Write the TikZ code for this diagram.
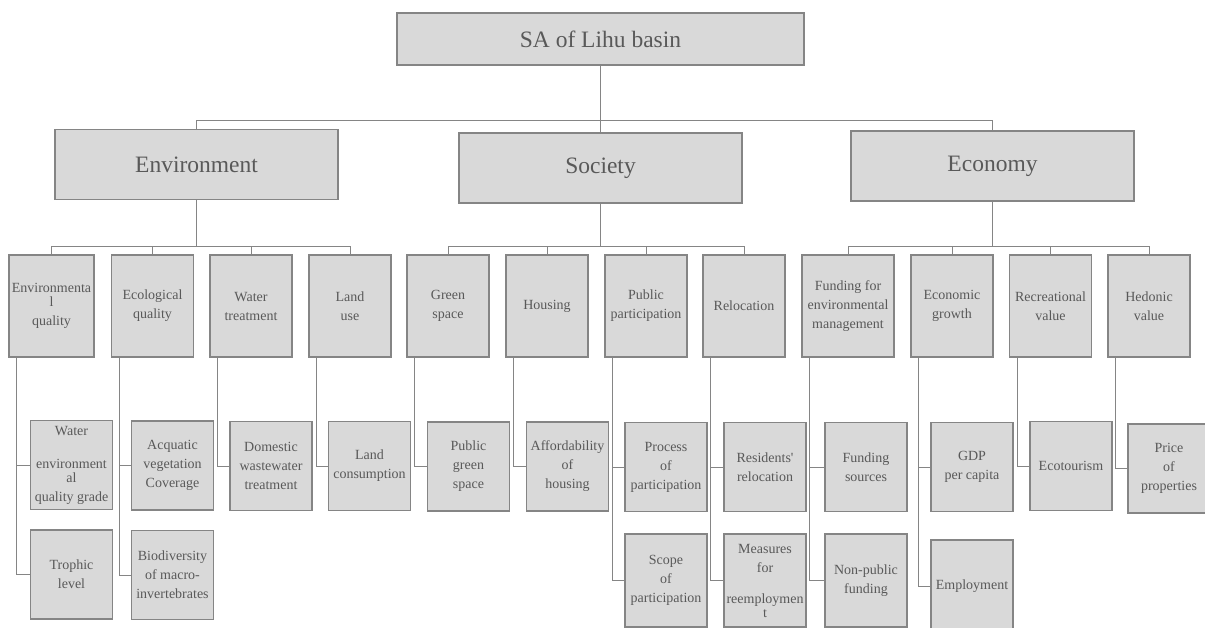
\documentclass[tikz,border=0pt]{standalone}
\usepackage{fontspec}
\setmainfont{Liberation Serif}
\usepackage{xcolor}
\usepackage{tikz}
\usetikzlibrary{calc}

\definecolor{boxfill}{HTML}{D9D9D9}
\definecolor{boxedge}{HTML}{858585}
\definecolor{boxtext}{HTML}{595959}
\definecolor{linkgray}{HTML}{858585}

\tikzset{
  basebox/.style={draw=boxedge, fill=boxfill, text=boxtext, line width=1.1pt, align=center, inner sep=1pt},
  rootbox/.style={basebox, minimum width=407pt, minimum height=52pt, font=\fontsize{23.5}{27}\selectfont},
  dimbox/.style={basebox, minimum width=283pt, minimum height=70pt, font=\fontsize{23.5}{27}\selectfont},
  critbox/.style={basebox, minimum width=82pt, minimum height=102pt, font=\fontsize{14}{19}\selectfont},
  leafbox/.style={basebox, minimum width=82pt, minimum height=89pt, font=\fontsize{14}{19}\selectfont},
  link/.style={draw=linkgray, line width=0.9pt},
}

\begin{document}
\begin{tikzpicture}[x=1pt, y=-1pt]
            \useasboundingbox (0,0) rectangle (1205,628);

            \node[rootbox] (sa) at (600.5,39) {SA of Lihu basin};

            \node[dimbox] (env) at (196.5,164.5) {Environment};
            \node[dimbox] (soc) at (600.5,168) {Society};
            \node[dimbox] (eco) at (992.5,166) {Economy};

            \node[critbox, minimum width=85pt] (envq) at (51.5,306) {Environmenta\\[-5pt]l\\quality};
            \node[critbox] (ecoq) at (152.5,306) {Ecological\\quality};
            \node[critbox] (wtreat) at (251,306) {Water\\treatment};
            \node[critbox] (luse) at (350,306) {Land\\use};
            \node[critbox] (green) at (448,306) {Green\\space};
            \node[critbox] (house) at (547,306) {Housing};
            \node[critbox] (ppart) at (646,306) {Public\\participation};
            \node[critbox] (reloc) at (744,306) {Relocation};
            \node[critbox, minimum width=92pt] (fund) at (848,306) {Funding for\\environmental\\management};
            \node[critbox] (egrow) at (952,306) {Economic\\growth};
            \node[critbox] (recre) at (1050.5,306) {Recreational\\value};
            \node[critbox] (hedon) at (1149,306) {Hedonic\\value};

            \node[leafbox] (wqual) at (71.5,465) {Water\\[14pt]environment\\[-5pt]al\\quality grade};
            \node[leafbox] (troph) at (71.5,574.5) {Trophic\\level};
            \node[leafbox] (aveg) at (172.5,465.5) {Acquatic\\vegetation\\Coverage};
            \node[leafbox] (biodiv) at (172.5,575) {Biodiversity\\of macro-\\invertebrates};
            \node[leafbox] (domww) at (271,466) {Domestic\\wastewater\\treatment};
            \node[leafbox] (lcons) at (369.5,466) {Land\\consumption};
            \node[leafbox] (pgreen) at (468.5,466.5) {Public\\green\\space};
            \node[leafbox] (afford) at (567.5,466.5) {Affordability\\of\\housing};
            \node[leafbox] (procp) at (666,467) {Process\\of\\participation};
            \node[leafbox, minimum height=93pt] (scopp) at (666,580.5) {Scope\\of\\participation};
            \node[leafbox] (resrel) at (765,467) {Residents\textquotesingle\\relocation};
            \node[leafbox, minimum height=93pt] (reempl) at (765,580.5) {Measures\\for\\[12pt]reemploymen\\[-5pt]t};
            \node[leafbox] (fsrc) at (866,467) {Funding\\sources};
            \node[leafbox, minimum height=93pt] (npfund) at (866,580.5) {Non-public\\funding};
            \node[leafbox] (gdp) at (972,467) {GDP\\per capita};
            \node[leafbox, minimum height=92pt] (employ) at (972,586) {Employment};
            \node[leafbox] (ecotour) at (1071,466) {Ecotourism};
            \node[leafbox] (price) at (1169,468.5) {Price\\of\\properties};

            \draw[link] (sa.south) -- (soc.north); % root-society
            \draw[link] (env.north) -- ++(0,-8) -| (eco.north); % top bar

            \foreach \pa/\ka/\kb/\kc/\kd in {env/envq/ecoq/wtreat/luse, soc/green/house/ppart/reloc, eco/fund/egrow/recre/hedon} {
                \draw[link] (\ka.north) -- ++(0,-8) -| (\kd.north);
                \draw[link] (\kb.north) -- ++(0,-8);
                \draw[link] (\kc.north) -- ++(0,-8);
                \draw[link] (\pa.south) -- ($(\pa.south |- \ka.north)+(0,-8)$);
            }

            \foreach \ka/\ia in {envq/wqual, envq/troph, ecoq/aveg, ecoq/biodiv, wtreat/domww, luse/lcons,
                green/pgreen, house/afford, ppart/procp, ppart/scopp, reloc/resrel, reloc/reempl,
                fund/fsrc, fund/npfund, egrow/gdp, egrow/employ, recre/ecotour, hedon/price}
                \draw[link] ([xshift=8pt]\ka.south west) |- (\ia.west);
        \end{tikzpicture}
\end{document}
